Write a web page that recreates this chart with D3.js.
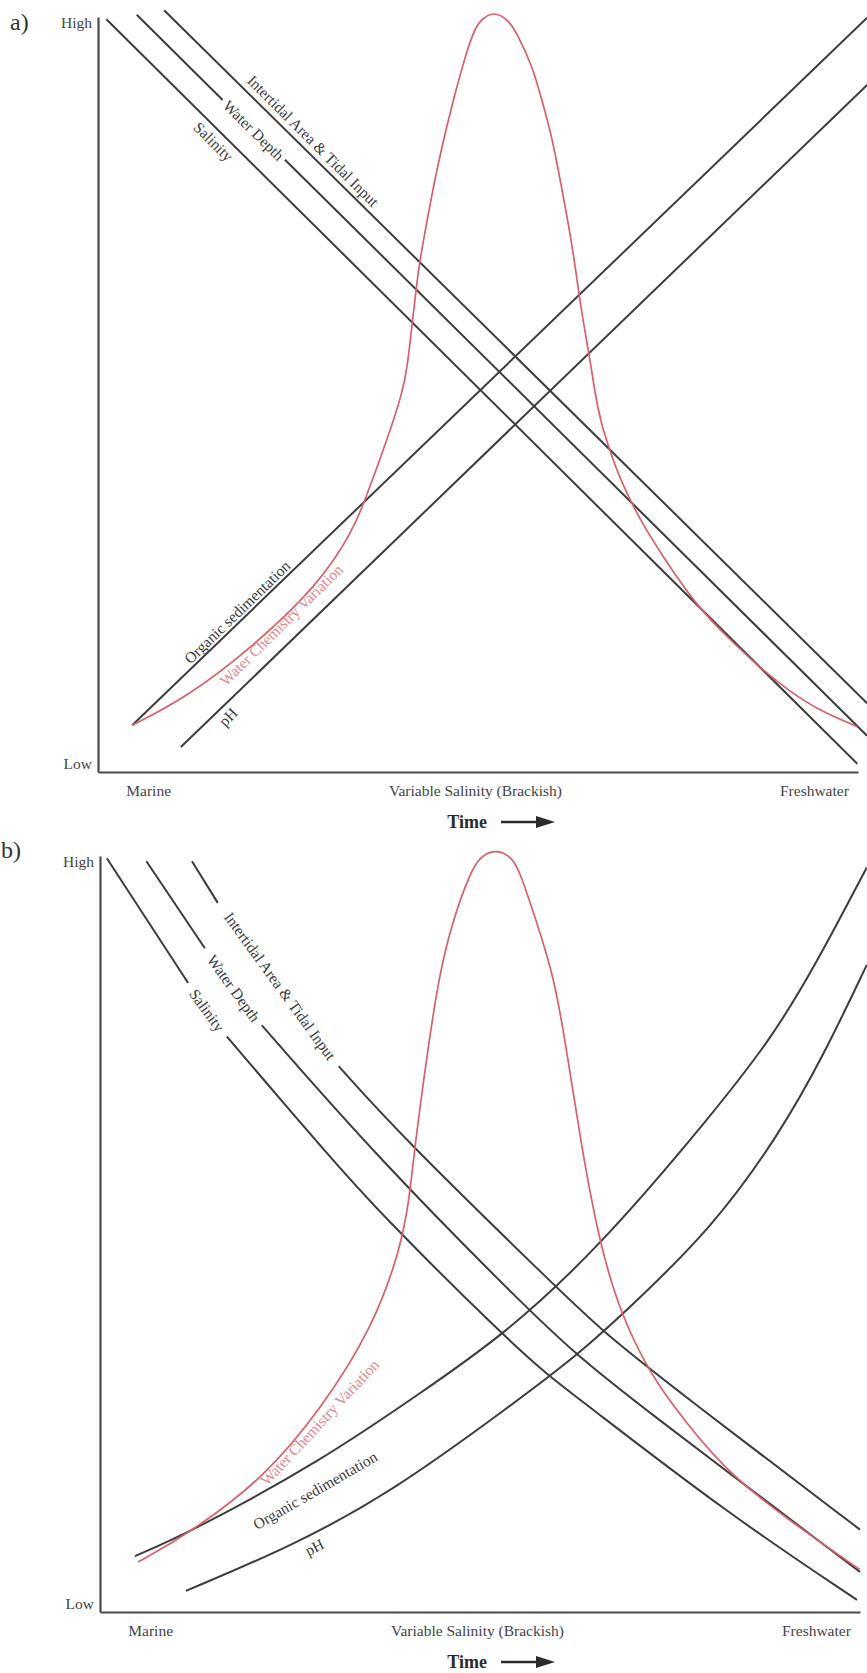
<!DOCTYPE html>
<html><head><meta charset="utf-8">
<script src="https://cdn.jsdelivr.net/npm/d3@7"></script>
<style>
body{margin:0;background:#fff}
svg{display:block;font-family:"Liberation Serif","Times New Roman",serif}
</style>
</head><body>
<svg id="chart" width="867" height="1673"></svg>
<script>
// ---------- DATA ----------
const yTickValues = [0, 100];
const yTickLabels = ["Low", "High"];
const xCategories = ["Marine", "Variable Salinity (Brackish)", "Freshwater"];
const xCategoryPos = [6.6, 49.6, 94.2];
const panelLetters = ["a)", "b)"];
const axisTitle = "Time";

// Panel a (linear trends); null = break in line for label
const aSalinity     = [[1.1,99.7],[99.9,1.1]];
const aWaterDepth   = [[5.1,100.3],[16.4,89.0],null,[24.6,81.1],[101.2,4.8]];
const aIntertidal   = [[8.7,100.9],[101.2,9.1]];
const aOrganic      = [[4.5,6.2],[101.2,99.9]];
const aPH           = [[10.9,3.3],[101.2,91.0]];
const aWaterChem    = [[4.5,6.2],[11.7,9.9],[20.4,16.6],[29.2,25.0],[33.6,32.1],[35.1,36.0],
  [36.7,40.3],[38.0,44.0],[39.1,47.3],[40.0,50.2],[40.7,53.6],[41.2,58.2],[41.7,62.5],
  [42.2,66.9],[43.0,71.4],[44.6,80.1],[46.7,89.0],[49.2,97.9],[50.3,99.6],[52.1,100.8],
  [54.0,99.6],[55.1,97.9],[57.2,93.4],[58.4,89.0],[59.6,84.6],[60.5,80.1],[61.3,75.8],
  [62.1,71.4],[62.8,66.9],[63.4,62.5],[64.1,58.2],[64.9,53.6],[65.4,50.2],[66.1,46.6],
  [67.1,43.3],[68.7,38.7],[71.3,33.4],[74.6,28.1],[79.0,21.7],[83.2,17.5],[87.1,13.8],
  [91.1,10.6],[95.0,8.1],[99.9,6.0]];

// Panel b (non-linear trends)
const bSalinity     = [[0.9,99.7],[11.6,83.2],null,[16.7,76.1],[30.3,60.1],[36.8,52.8],
  [53.0,36.6],[59.2,31.1],[62.9,28.3],[82.5,13.1],[99.6,1.6]];
const bWaterDepth   = [[6.1,99.3],[13.8,87.8],null,[21.3,77.6],[36.5,60.1],[56.6,39.7],
  [62.8,34.0],[69.7,28.3],[100,5.3]];
const bIntertidal   = [[12.1,99.3],[15.5,93.8],null,[31.4,72.2],[39.5,63.1],[60.1,42.9],
  [66.2,37.0],[77.2,28.3],[100,10.9]];
const bOrganic      = [[4.6,7.4],[11.8,10.5],[29.3,20.1],[42.2,29.0],[53.0,36.5],[65.8,48.3],
  [80.7,66.0],[88.2,75.7],[93.8,84.9],[100.9,98.5]];
const bPH           = [[11.3,2.8],[25.0,8.6],[38.2,15.7],[54.6,27.7],[62.8,34.0],[68.7,39.3],
  [80.7,50.9],[89.5,63.4],[95.1,73.4],[100.9,85.6]];
const bWaterChem    = [[5.0,6.6],[11.4,10.2],[21.4,17.5],[29.3,27.1],[35.9,37.7],[39.5,47.9],
  [40.7,54.5],[41.4,61.5],[43.3,75.7],[44.7,84.5],[46.3,91.1],[48.7,97.8],[50.0,99.9],
  [52.0,100.9],[54.2,99.9],[55.3,97.8],[57.5,91.1],[59.6,84.5],[61.2,75.7],[63.2,62.4],
  [65.8,48.3],[68.7,39.0],[72.0,32.4],[74.6,28.3],[82.0,18.8],[90.8,12.0],[100,5.6]];

// Series labels
const aLabelNames  = ["Salinity","Water Depth","Intertidal Area & Tidal Input","Organic sedimentation","Water Chemistry Variation","pH"];
const aLabelPos    = [[15.2,83.5],[20.5,85.0],[28.3,83.6],[18.3,21.2],[24.1,19.5],[17.1,7.3]];
const aLabelAngle  = [45, 44.5, 45, -44, -44.5, -46];
const bLabelPos    = [[14.1,79.6],[17.6,82.5],[23.7,82.8],[28.3,16.1],[28.9,25.1],[28.2,8.6]];
const bLabelAngle  = [54, 54, 54, -30, -47, -27];

// ---------- LAYOUT ----------
const BLACK = "#3c3c3c", RED = "#d9606a", RED_TEXT = "#e3878d", TEXT = "#3a3a3a";
const panels = [
  {letter: panelLetters[0], left: 98, right: 858, top: 17, bottom: 772, letterX: 10, letterY: 30,
   black: [aSalinity, aWaterDepth, aIntertidal, aOrganic, aPH], red: aWaterChem,
   labelPos: aLabelPos, labelAngle: aLabelAngle},
  {letter: panelLetters[1], left: 100, right: 860, top: 856, bottom: 1612, letterX: 1, letterY: 858,
   black: [bSalinity, bWaterDepth, bIntertidal, bOrganic, bPH], red: bWaterChem,
   labelPos: bLabelPos, labelAngle: bLabelAngle}
];

const svg = d3.select("#chart");

panels.forEach(p => {
  const x = d3.scaleLinear().domain([0, 100]).range([p.left, p.right]);
  const y = d3.scaleLinear().domain([0, 100]).range([p.bottom, p.top]);
  const g = svg.append("g");

  // axes
  const yAxis = d3.axisLeft(y).tickValues(yTickValues)
    .tickFormat((d, i) => yTickLabels[i]).tickSize(0).tickSizeOuter(0).tickPadding(6);
  const ya = g.append("g").attr("transform", `translate(${p.left},0)`).call(yAxis);
  const xAxis = d3.axisBottom(x).tickValues(xCategoryPos)
    .tickFormat((d, i) => xCategories[i]).tickSize(0).tickSizeOuter(0).tickPadding(13);
  const xa = g.append("g").attr("transform", `translate(0,${p.bottom})`).call(xAxis);
  [ya, xa].forEach(a => {
    a.select(".domain").attr("stroke", "#4a4a4a").attr("stroke-width", 2.2);
    a.selectAll("text").attr("font-family", '"Liberation Serif", serif')
      .attr("font-size", 15.5).attr("fill", "#444");
  });
  ya.selectAll(".tick text").attr("y", d => d === 100 ? 6 : -8);

  // lines
  const line = d3.line().defined(d => d).x(d => x(d[0])).y(d => y(d[1]))
    .curve(d3.curveBasis);
  g.selectAll("path.series").data(p.black).join("path").attr("class", "series")
    .attr("d", line).attr("fill", "none").attr("stroke", BLACK).attr("stroke-width", 2);
  g.append("path").attr("d", line(p.red)).attr("fill", "none")
    .attr("stroke", RED).attr("stroke-width", 1.7);

  // series labels
  g.selectAll("text.lbl").data(aLabelNames).join("text").attr("class", "lbl")
    .attr("transform", (d, i) => `translate(${x(p.labelPos[i][0])},${y(p.labelPos[i][1])}) rotate(${p.labelAngle[i]})`)
    .attr("text-anchor", "middle").attr("dominant-baseline", "central")
    .attr("font-size", 15.5)
    .attr("fill", d => d === "Water Chemistry Variation" ? RED_TEXT : TEXT)
    .text(d => d);

  // panel letter
  svg.append("text").attr("x", p.letterX).attr("y", p.letterY)
    .attr("font-size", 24).attr("fill", "#333").text(p.letter);

  // Time arrow
  const tg = svg.append("g");
  tg.append("text").attr("x", 487).attr("y", p.bottom + 56).attr("text-anchor", "end")
    .attr("font-size", 18).attr("font-weight", "bold").attr("fill", "#2a2a2a").text(axisTitle);
  tg.append("line").attr("x1", 501).attr("x2", 540)
    .attr("y1", p.bottom + 50).attr("y2", p.bottom + 50)
    .attr("stroke", "#2a2a2a").attr("stroke-width", 2.5);
  tg.append("path")
    .attr("d", `M536,${p.bottom + 44}L555,${p.bottom + 50}L536,${p.bottom + 56}Z`)
    .attr("fill", "#2a2a2a");
});
</script>
</body></html>
